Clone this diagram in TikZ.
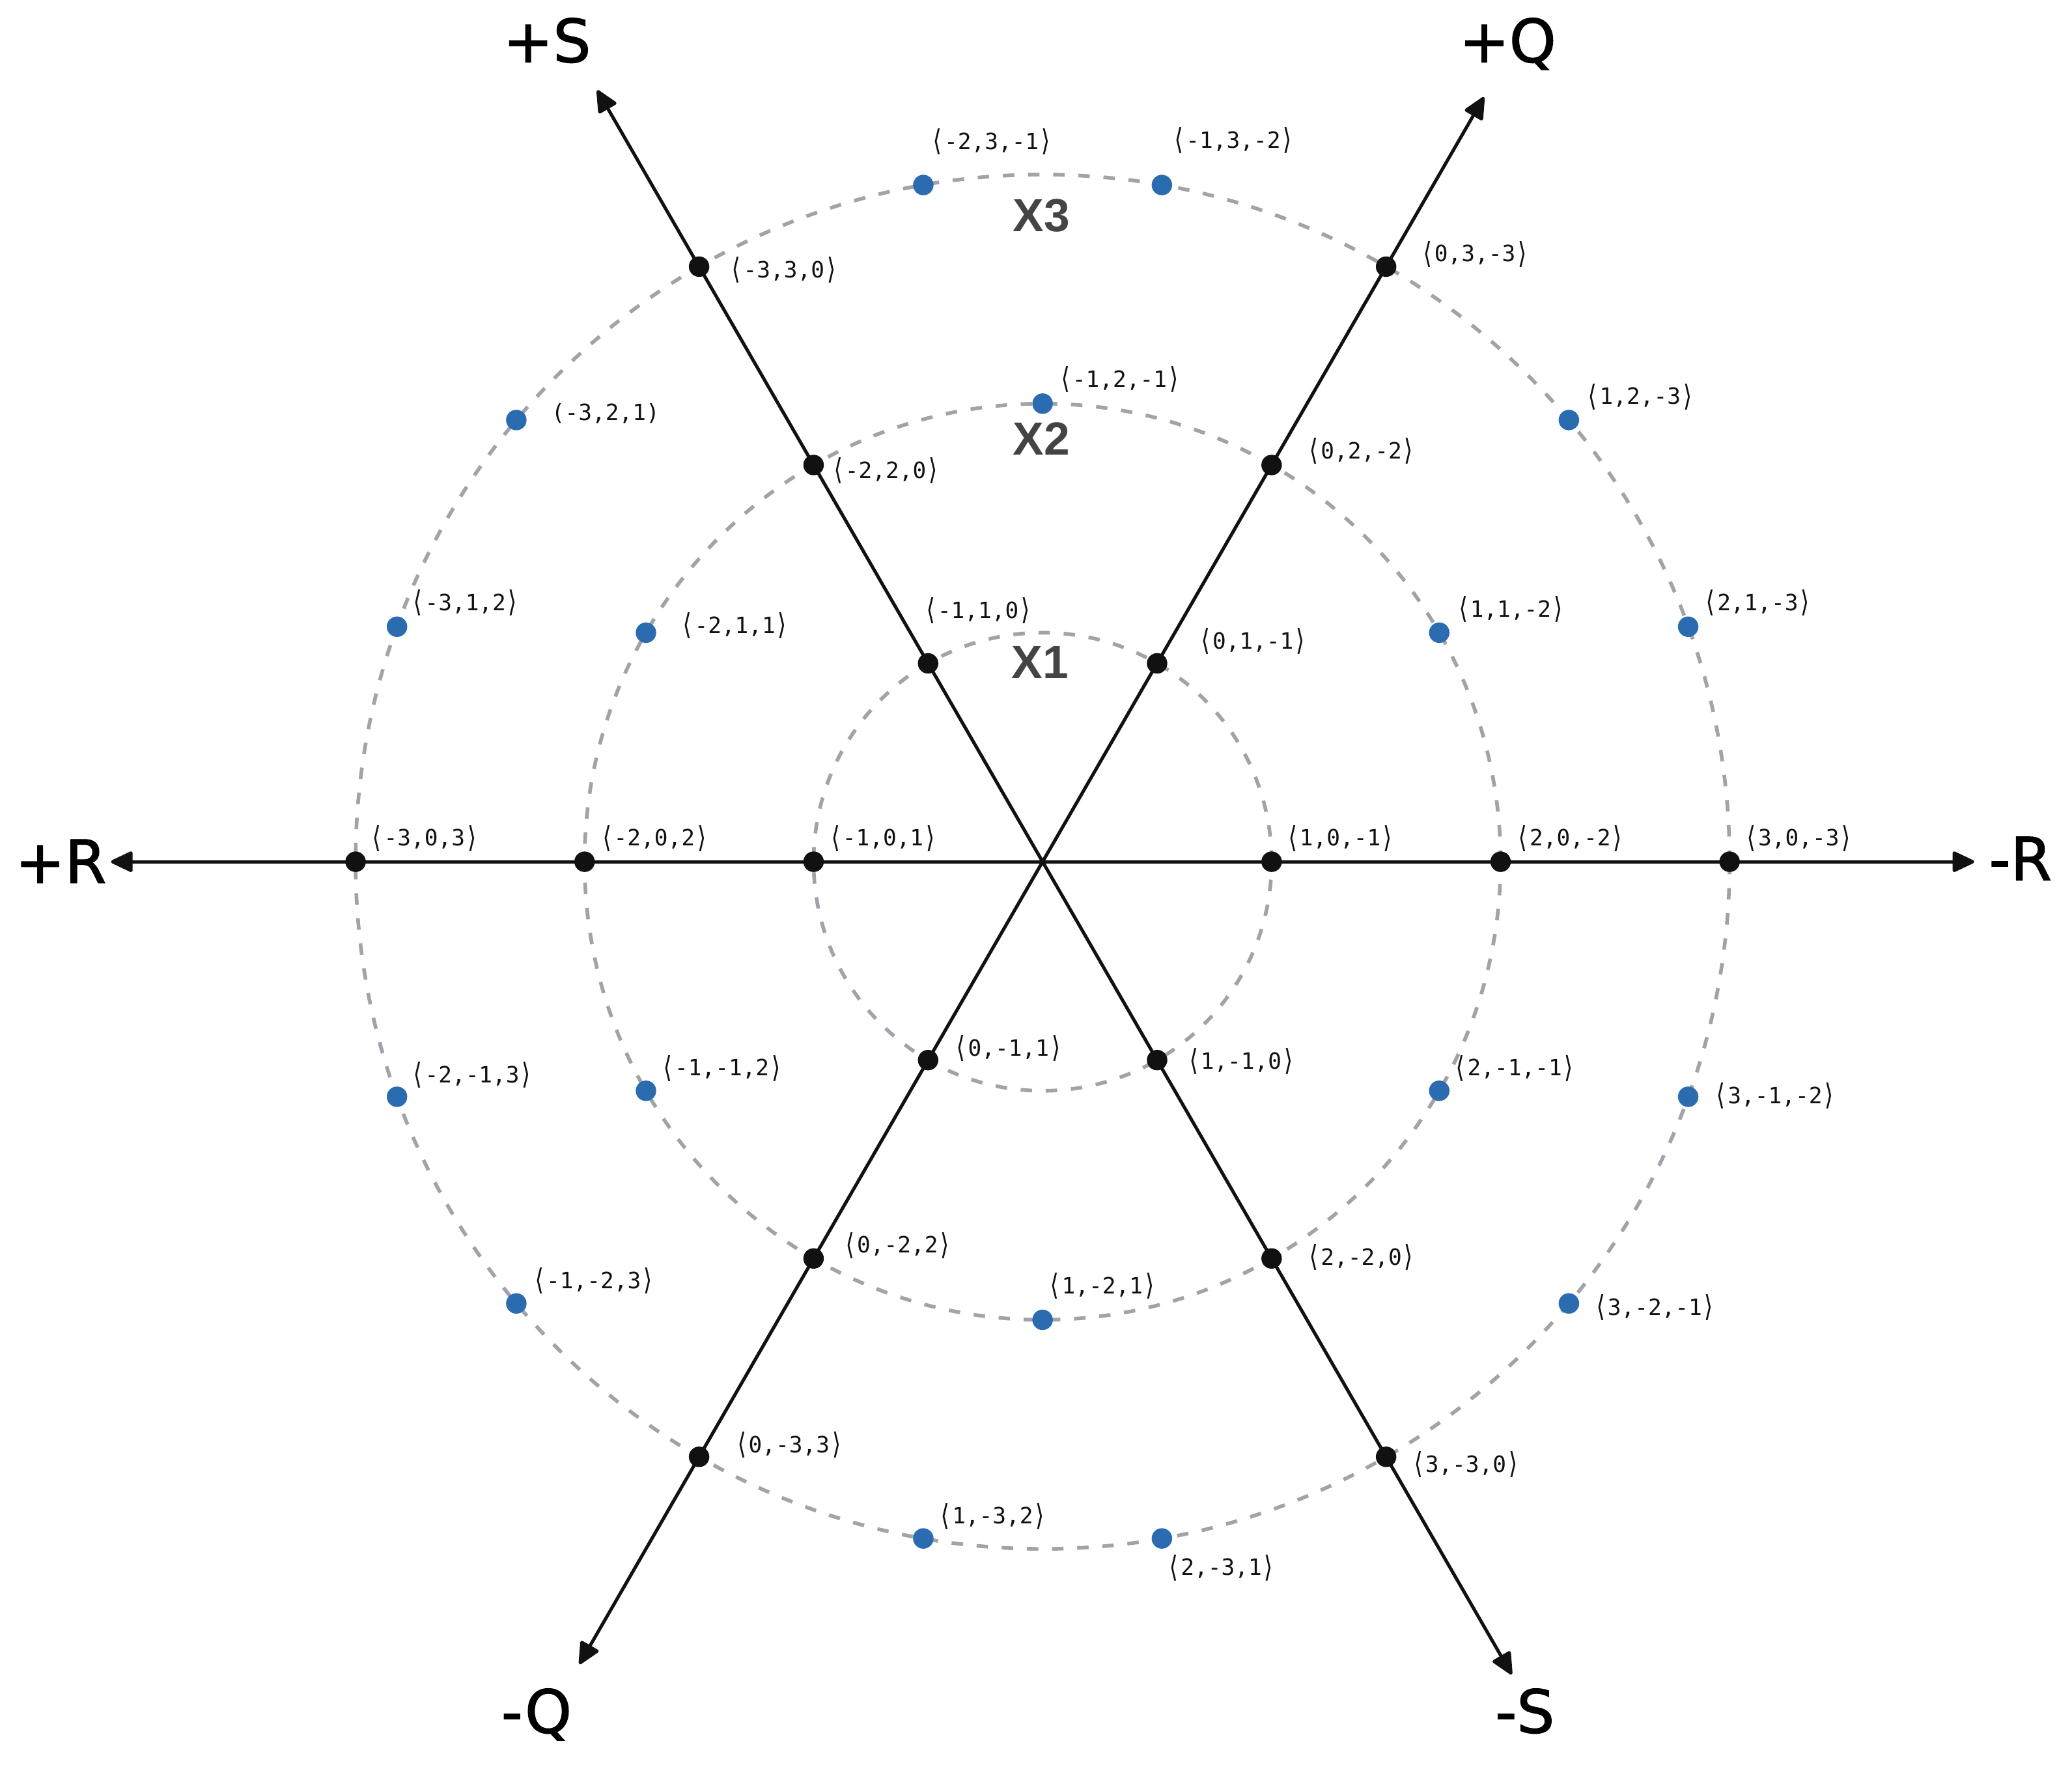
\documentclass[tikz,border=0pt]{standalone}
\usepackage{fontspec}
\setmainfont{DejaVu Sans}
\newfontfamily\monofnt{DejaVu Sans Mono}
\newfontfamily\xfnt{Liberation Sans}
\newfontfamily\axfnt{DejaVu Sans}[FakeBold=1.5]
\usetikzlibrary{arrows.meta}
\definecolor{ringgray}{RGB}{160,163,169}
\definecolor{dotblue}{RGB}{43,108,176}
\definecolor{ink}{RGB}{17,17,17}
\definecolor{xgray}{RGB}{68,68,68}
\newcommand\lang{\raisebox{-0.12ex}{\scalebox{1}[1.3]{⟨}}}
\newcommand\rang{\raisebox{-0.12ex}{\scalebox{1}[1.3]{⟩}}}
\begin{document}
\begin{tikzpicture}[x=0.020293cm,y=0.020293cm,
  ring/.style={draw=ringgray,line width=1.6pt,dash pattern=on 5pt off 6pt},
  axisline/.style={draw=ink,line width=1.45pt,-{Triangle[length=10.5pt,width=9.5pt,round]}},
  hexdot/.style={circle,fill=ink,inner sep=0pt,minimum size=0.3145cm},
  bluedot/.style={circle,fill=dotblue,inner sep=0pt,minimum size=0.3145cm},
  clab/.style={anchor=base west,inner sep=0pt,font=\monofnt\fontsize{9.8}{12}\selectfont,text=ink},
  axlab/.style={anchor=base,inner sep=0pt,font=\axfnt\fontsize{26}{30}\selectfont,text=black},
  ringlab/.style={anchor=base,inner sep=0pt,font=\xfnt\bfseries\fontsize{20.3}{24}\selectfont,text=xgray}]
\useasboundingbox (-789,-683) rectangle (779,652);
\coordinate (O) at (0,0);
% rings
\draw[ring] (O) circle[radius=173.3];
\draw[ring] (O) circle[radius=346.6];
\draw[ring] (O) circle[radius=519.9];
% axis tips
\coordinate (tQp) at (60:668);
\coordinate (tSp) at (120:674);
\coordinate (tRp) at (180:705);
\coordinate (tQm) at (240:701);
\coordinate (tSm) at (300:710);
\coordinate (tRm) at (0:705);
\foreach \t in {tQp,tSp,tRp,tQm,tSm,tRm} { \draw[axisline] (O) -- (\t); }
% dots
\foreach \a in {0,60,...,300} {
  \node[hexdot] (a1-\a) at (\a:173.3) {};
  \node[hexdot] (a2-\a) at (\a:346.6) {};
  \node[hexdot] (a3-\a) at (\a:519.9) {};
}
\foreach \a in {30,90,...,330} { \node[bluedot] (b2-\a) at (\a:346.6) {}; }
\foreach \a in {20,40,80,100,140,160,200,220,260,280,320,340} { \node[bluedot] (b3-\a) at (\a:519.9) {}; }
% ring 1 labels
\node[clab] (l1a) at (184,12) {\lang1,0,-1\rang};
\node[clab] (l1b) at (118,161) {\lang0,1,-1\rang};
\node[clab] (l1c) at (-90,184) {\lang-1,1,0\rang};
\node[clab] (l1d) at (-162,12) {\lang-1,0,1\rang};
\node[clab] (l1e) at (-67,-147) {\lang0,-1,1\rang};
\node[clab] (l1f) at (109,-157) {\lang1,-1,0\rang};
% ring 2 labels
\node[clab] (l2a) at (358,12) {\lang2,0,-2\rang};
\node[clab] (l2b) at (313,185) {\lang1,1,-2\rang};
\node[clab] (l2c) at (200,305) {\lang0,2,-2\rang};
\node[clab] (l2d) at (12,359) {\lang-1,2,-1\rang};
\node[clab] (l2e) at (-160,290) {\lang-2,2,0\rang};
\node[clab] (l2f) at (-274,173) {\lang-2,1,1\rang};
\node[clab] (l2g) at (-335,12) {\lang-2,0,2\rang};
\node[clab] (l2h) at (-289,-162) {\lang-1,-1,2\rang};
\node[clab] (l2i) at (-151,-296) {\lang0,-2,2\rang};
\node[clab] (l2j) at (4,-327) {\lang1,-2,1\rang};
\node[clab] (l2k) at (200,-305) {\lang2,-2,0\rang};
\node[clab] (l2l) at (311,-162) {\lang2,-1,-1\rang};
% ring 3 labels
\node[clab] (l3a) at (531,12) {\lang3,0,-3\rang};
\node[clab] (l3b) at (500,190) {\lang2,1,-3\rang};
\node[clab] (l3c) at (411,346) {\lang1,2,-3\rang};
\node[clab] (l3d) at (286,454) {\lang0,3,-3\rang};
\node[clab] (l3e) at (98,540) {\lang-1,3,-2\rang};
\node[clab] (l3f) at (-85,539) {\lang-2,3,-1\rang};
\node[clab] (l3g) at (-237,442) {\lang-3,3,0\rang};
\node[clab] (l3h) at (-372,334) {(-3,2,1)};
\node[clab] (l3i) at (-478,190) {\lang-3,1,2\rang};
\node[clab] (l3j) at (-509,12) {\lang-3,0,3\rang};
\node[clab] (l3k) at (-478,-167) {\lang-2,-1,3\rang};
\node[clab] (l3l) at (-386,-323) {\lang-1,-2,3\rang};
\node[clab] (l3m) at (-233,-447) {\lang0,-3,3\rang};
\node[clab] (l3n) at (-79,-501) {\lang1,-3,2\rang};
\node[clab] (l3o) at (94,-540) {\lang2,-3,1\rang};
\node[clab] (l3p) at (279,-462) {\lang3,-3,0\rang};
\node[clab] (l3q) at (417,-343) {\lang3,-2,-1\rang};
\node[clab] (l3r) at (508,-183) {\lang3,-1,-2\rang};
% ring names
\node[ringlab] (x1) at (-2,139) {X1};
\node[ringlab] (x2) at (-1,308) {X2};
\node[ringlab] (x3) at (-1,477) {X3};
% axis names
\node[axlab] (nQp) at (352,605) {+Q};
\node[axlab] (nSp) at (-375,605) {+S};
\node[axlab] (nRp) at (-743,-16) {+R};
\node[axlab] (nRm) at (740,-14) {-R};
\node[axlab] (nQm) at (-383,-659) {-Q};
\node[axlab] (nSm) at (365,-659) {-S};
\end{tikzpicture}
\end{document}
